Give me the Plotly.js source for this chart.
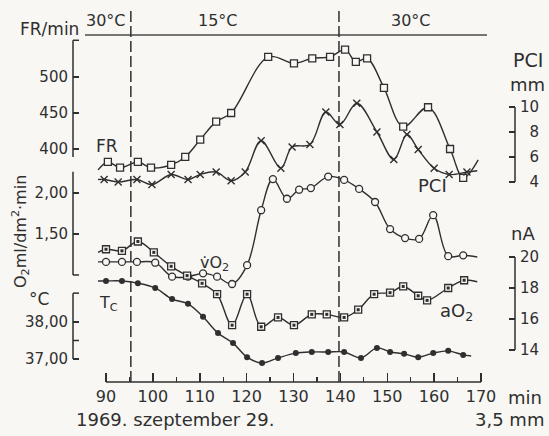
<!DOCTYPE html>
<html>
<head>
<meta charset="utf-8">
<script src="https://cdn.plot.ly/plotly-3.0.1.min.js"></script>
<style>
  html, body { margin: 0; padding: 0; background: #f8f7f4; }
  #chart { width: 549px; height: 436px; }
</style>
</head>
<body>
<div id="chart"></div>
<script>
// Recorded series, time in minutes. The first and last point of each series are
// the free ends of the drawn curve (no measurement symbol there).

// breathing frequency, FR (1/min)
const frTime  = [88.3, 90.4, 93.0, 96.8, 99.6, 103.9, 106.9, 110.1, 113.5, 116.7, 124.6, 130.1, 134.0, 137.8, 141.0, 143.3, 145.7, 149.3, 153.4, 158.7, 163.4, 166.2, 169.4];
const frValue = [371, 382, 374, 382, 374, 378, 389, 413, 438, 450, 528, 519, 526, 528, 538, 521, 526, 485, 431, 458, 400, 360, 385];

// PCI amplitude (mm)
const pciTime  = [88.3, 89.6, 92.6, 96.6, 99.8, 103.9, 107.5, 110.1, 113.5, 116.7, 119.7, 123.1, 127.3, 129.7, 133.5, 136.9, 139.9, 143.5, 147.8, 151.4, 154.2, 156.6, 160.0, 163.2, 167.0, 169.2];
const pciValue = [4.2, 4.2, 4.0, 4.2, 3.8, 4.6, 4.2, 4.6, 4.8, 4.1, 4.8, 7.3, 5.1, 6.8, 7.0, 9.6, 8.6, 10.3, 8.0, 5.8, 7.8, 6.6, 5.1, 4.6, 4.8, 4.9];

// oxygen uptake, vO2 (ml/dm2·min)
const vo2Time  = [88.3, 90.0, 93.4, 96.6, 100.5, 104.1, 107.5, 110.7, 113.7, 116.9, 120.1, 123.1, 125.6, 128.6, 131.2, 133.7, 137.4, 140.8, 144.0, 147.4, 150.6, 153.8, 156.8, 159.8, 163.0, 166.2, 169.2];
const vo2Value = [1.16, 1.16, 1.16, 1.16, 1.15, 0.98, 0.98, 1.02, 0.98, 0.89, 1.12, 1.79, 2.17, 1.93, 2.04, 2.06, 2.20, 2.16, 2.05, 1.89, 1.56, 1.45, 1.44, 1.73, 1.23, 1.24, 1.22];

// tissue oxygen, aO2 (nA)
const ao2Time  = [88.3, 90.0, 93.4, 96.8, 100.2, 103.9, 107.3, 110.5, 113.7, 116.9, 120.1, 123.1, 126.7, 130.1, 133.9, 137.1, 140.8, 143.8, 147.2, 150.6, 153.4, 156.6, 158.5, 163.0, 166.4, 169.2];
const ao2Value = [20.3, 20.5, 20.4, 21.0, 20.3, 19.4, 18.8, 18.3, 17.6, 15.6, 17.6, 15.5, 16.1, 15.6, 16.3, 16.3, 16.1, 16.6, 17.6, 17.7, 18.1, 17.5, 17.2, 18.0, 18.5, 18.4];

// core temperature, Tc (°C)
const tcTime  = [88.3, 90.0, 93.4, 96.8, 100.5, 104.1, 107.5, 110.7, 113.9, 117.1, 120.1, 123.3, 126.7, 130.5, 133.9, 137.4, 140.8, 144.4, 147.8, 150.6, 153.6, 156.6, 159.8, 163.0, 166.2, 167.9];
const tcValue = [39.11, 39.11, 39.11, 39.05, 38.92, 38.62, 38.49, 38.14, 37.70, 37.43, 37.05, 36.89, 37.03, 37.16, 37.19, 37.19, 37.19, 37.03, 37.30, 37.19, 37.14, 37.05, 37.16, 37.22, 37.11, 37.08];

// bath temperature changes (min) and the phase labels above the chart
const switchTimes = [95.3, 139.7];
const phaseLabels = ['30°C', '15°C', '30°C'];

// time axis ticks
const timeTicks  = [90, 100, 110, 120, 130, 140, 150, 160, 170];
const timeMinor  = [95, 105, 115, 125, 135, 145, 155, 165];

// scale ticks of each panel
const frTicks   = [400, 450, 500];
const vo2Ticks  = [1.5, 2.0];
const vo2Labels = ['1,50', '2,00'];
const tcTicks   = [37, 38];
const tcLabels  = ['37,00', '38,00'];
const tcHalf    = 37.5;
const pciTicks  = [4, 6, 8, 10];
const ao2Ticks  = [14, 16, 18, 20];

// ---------------------------------------------------------------------------
const INK = '#2f2f2f';
const PAPER = '#f8f7f4';
const FONT = 'DejaVu Sans, Liberation Sans, sans-serif';

// plot box in page pixels
const box = { left: 73, right: 515, top: 8, bottom: 382 };
const pxX = px => (px - box.left) / (box.right - box.left);
const pxY = py => (box.bottom - py) / (box.bottom - box.top);

// linear scale through two reference pixels, returned as axis range over the box
function scaleRange(v1, p1, v2, p2, pa, pb) {
  const k = (v2 - v1) / (p2 - p1);
  return [v1 + (pa - p1) * k, v1 + (pb - p1) * k];
}
const xRange   = scaleRange(90, 106, 170, 481, box.left, box.right);
const frRange  = scaleRange(500, 77, 400, 149, box.bottom, box.top);
const pciRange = scaleRange(10, 107, 4, 182, box.bottom, box.top);
const vo2Range = scaleRange(2.0, 193, 1.5, 234, box.bottom, box.top);
const ao2Range = scaleRange(20, 257, 14, 350, box.bottom, box.top);
const tcRange  = scaleRange(38, 322, 37, 359, box.bottom, box.top);

const toPaper = (range, v) => (v - range[0]) / (range[1] - range[0]);
const xPaper = v => toPaper(xRange, v);

// ---------------------------------------------------------------------------
const inner = a => a.slice(1, -1);
const traces = [];
function series(t, v, yaxis, marker) {
  traces.push({
    x: t, y: v, yaxis: yaxis, type: 'scatter', mode: 'lines',
    line: { color: INK, width: 1.4, shape: 'spline', smoothing: 1 },
    hoverinfo: 'skip', showlegend: false
  });
  traces.push({
    x: inner(t), y: inner(v), yaxis: yaxis, type: 'scatter', mode: 'markers',
    marker: marker, hoverinfo: 'skip', showlegend: false, cliponaxis: false
  });
}
series(frTime, frValue, 'y', { symbol: 'square', size: 7, color: PAPER, line: { color: INK, width: 1.3 } });
series(pciTime, pciValue, 'y2', { symbol: 'x-thin', size: 7, color: INK, line: { color: INK, width: 1.4 } });
series(vo2Time, vo2Value, 'y3', { symbol: 'circle', size: 7, color: PAPER, line: { color: INK, width: 1.3 } });
series(ao2Time, ao2Value, 'y4', { symbol: 'square', size: 7, color: PAPER, line: { color: INK, width: 1.3 } });
traces.push({
  x: inner(ao2Time), y: inner(ao2Value), yaxis: 'y4', type: 'scatter', mode: 'markers',
  marker: { symbol: 'square', size: 3, color: INK }, hoverinfo: 'skip', showlegend: false
});
series(tcTime, tcValue, 'y5', { symbol: 'circle', size: 6, color: INK, line: { width: 0 } });

// ---------------------------------------------------------------------------
const TICK = 6;
const yBase = {
  showgrid: false, zeroline: false, showline: false,
  ticks: 'inside', ticklen: TICK, tickwidth: 1.5, tickcolor: INK,
  tickfont: { family: FONT, size: 15, color: INK },
  tickmode: 'array', fixedrange: true, ticklabelstandoff: 4
};
const figure = n => '\u2007'.repeat(n);
const rightLabels = ticks => ticks.map(t => (String(t).length < 2 ? figure(1) : '') + String(t));

const frTop = 551, frBottom = 389;
const vo2Bottom = 1.0, vo2Top = 2.26;
const tcTop = 38.78;

const layout = {
  width: 549, height: 436,
  margin: { l: box.left, r: 549 - box.right, t: box.top, b: 436 - box.bottom },
  paper_bgcolor: PAPER, plot_bgcolor: PAPER,
  showlegend: false,
  font: { family: FONT, color: INK },
  xaxis: {
    range: xRange, showgrid: false, zeroline: false, showline: false,
    tickmode: 'array', tickvals: timeTicks,
    ticks: 'inside', ticklen: 9, tickwidth: 1.5, tickcolor: INK,
    tickfont: { family: FONT, size: 16, color: INK }, ticklabelstandoff: 3,
    minor: { tickmode: 'array', tickvals: timeMinor, ticks: 'inside', ticklen: 5, tickwidth: 1.3, tickcolor: INK },
    fixedrange: true
  },
  yaxis: Object.assign({}, yBase, {
    range: frRange, side: 'left', tickvals: frTicks, ticktext: frTicks.map(String)
  }),
  yaxis2: Object.assign({}, yBase, {
    range: pciRange, side: 'right', overlaying: 'y',
    tickvals: pciTicks, ticktext: rightLabels(pciTicks)
  }),
  yaxis3: Object.assign({}, yBase, {
    range: vo2Range, side: 'left', overlaying: 'y',
    tickvals: vo2Ticks, ticktext: vo2Labels
  }),
  yaxis4: Object.assign({}, yBase, {
    range: ao2Range, side: 'right', overlaying: 'y',
    tickvals: ao2Ticks, ticktext: rightLabels(ao2Ticks)
  }),
  yaxis5: Object.assign({}, yBase, {
    range: tcRange, side: 'left', overlaying: 'y',
    tickvals: tcTicks, ticktext: tcLabels
  }),
  shapes: [],
  annotations: []
};

// scale spines of each panel
const spine = (xp, range, a, b) => ({
  type: 'line', xref: 'paper', yref: 'paper', x0: xp, x1: xp,
  y0: toPaper(range, a), y1: toPaper(range, b),
  line: { color: INK, width: 1.5 }
});
// unlabelled end / half ticks, pointing into the plot
const stub = (xp, range, v) => {
  const dx = TICK / (box.right - box.left) * (xp === 0 ? 1 : -1);
  const yp = toPaper(range, v);
  return {
    type: 'line', xref: 'paper', yref: 'paper', x0: xp, x1: xp + dx, y0: yp, y1: yp,
    line: { color: INK, width: 1.5 }
  };
};
layout.shapes.push(spine(0, frRange, frBottom, frTop), stub(0, frRange, frTop));
layout.shapes.push(spine(0, vo2Range, vo2Bottom, vo2Top), stub(0, vo2Range, vo2Bottom));
layout.shapes.push(spine(0, tcRange, tcTicks[0], tcTop), stub(0, tcRange, tcTop), stub(0, tcRange, tcHalf));
layout.shapes.push(spine(1, pciRange, pciTicks[0], pciTicks[pciTicks.length - 1]));
layout.shapes.push(spine(1, ao2Range, ao2Ticks[0], ao2Ticks[ao2Ticks.length - 1]));

// time axis line from the first to the last labelled tick
layout.shapes.push({
  type: 'line', xref: 'paper', yref: 'paper',
  x0: xPaper(timeTicks[0]), x1: xPaper(timeTicks[timeTicks.length - 1]), y0: 0, y1: 0,
  line: { color: INK, width: 1.6 }
});

// header rule carrying the bath temperature phases
layout.shapes.push({
  type: 'line', xref: 'paper', yref: 'paper',
  x0: pxX(85), x1: pxX(487), y0: pxY(35), y1: pxY(35),
  line: { color: '#4a4a4a', width: 1.5 }
});

// bath temperature switches
switchTimes.forEach(t => layout.shapes.push({
  type: 'line', xref: 'paper', yref: 'paper',
  x0: xPaper(t), x1: xPaper(t), y0: 0, y1: pxY(9),
  line: { color: INK, width: 1.5, dash: '11px,4px' }
}));

// text labels
function note(text, px, py, size, extra) {
  layout.annotations.push(Object.assign({
    text: text, xref: 'paper', yref: 'paper', x: pxX(px), y: pxY(py),
    xanchor: 'center', yanchor: 'middle', showarrow: false,
    font: { family: FONT, size: size, color: INK }
  }, extra || {}));
}
note(phaseLabels[0], 106, 20, 16);
note(phaseLabels[1], 218, 20, 16);
note(phaseLabels[2], 411, 20, 16);
note('FR/min', 49, 29, 17);
note('O<sub>2</sub>ml/dm<sup>2</sup>·min', 21, 232, 16, { textangle: -90 });
note('°C', 39, 299, 17);
note('PCI', 528, 60, 19);
note('mm', 527, 84, 18);
note('nA', 523, 233, 18);
note('FR', 107, 146, 17);
note('PCI', 432, 185, 18);
note('v\u0307O<sub>2</sub>', 214, 263, 16);
note('T<sub>C</sub>', 108, 303, 16);
note('aO<sub>2</sub>', 456, 312, 18);
note('min', 525, 397, 18);
note('1969. szeptember 29.', 175, 419, 18);
note('3,5 mm', 509, 419, 18);

Plotly.newPlot('chart', traces, layout, { staticPlot: true, displayModeBar: false });
</script>
</body>
</html>
